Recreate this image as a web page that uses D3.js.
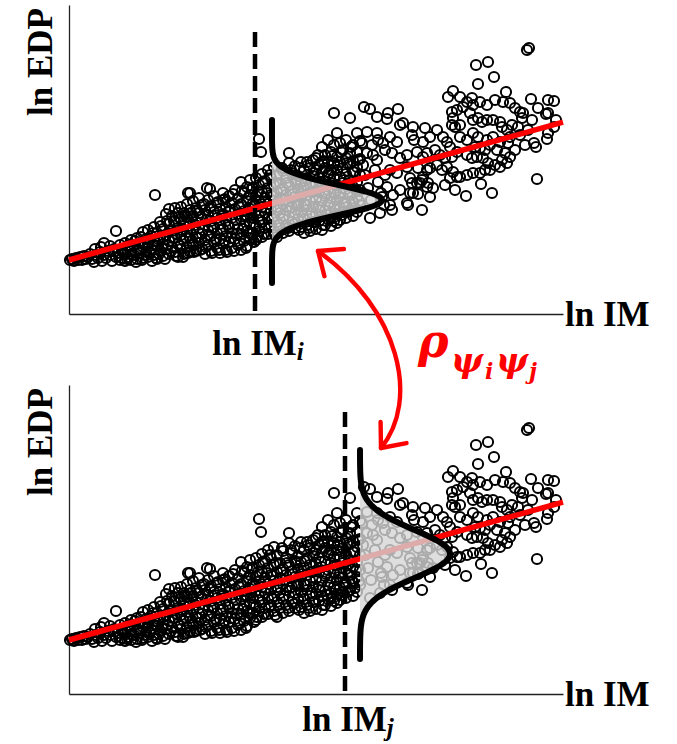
<!DOCTYPE html>
<html>
<head>
<meta charset="utf-8">
<script src="https://cdn.jsdelivr.net/npm/d3@7"></script>
<style>
  html, body { margin: 0; padding: 0; background: #fff; }
  svg { display: block; }
</style>
</head>
<body>
<svg id="chart" width="677" height="744"></svg>
<script>
// ---- ln IM / ln EDP pairs of the record set (arbitrary log units) ----
const bandLow = [
  [0.1,5.4],[0.3,5.5],[0.5,5.3],[0.7,5.6],[0.9,5.4],[1.1,5.7],[1.3,5.4],[1.5,5.8],[1.7,5.5],[1.9,5.7],
  [2.1,6.0],[2.3,5.5],[2.5,5.2],[2.7,5.9],[2.9,5.6],[3.1,6.2],[3.3,5.3],[3.5,5.9],[3.7,5.6],[3.9,6.3],
  [4.1,5.9],[4.3,5.3],[4.5,6.5],[4.7,5.7],[4.9,6.1],[5.1,5.4],[3.5,7.1],[4.7,8.3],[2.6,6.5],[3.2,6.7],
  [4.1,6.8],[5.1,6.9],[5.3,6.4],[5.3,5.6],[5.6,7.1],[5.6,6.0],[5.6,5.3],[5.9,6.7],[5.9,5.7],[6.2,7.4],
  [6.2,6.3],[6.2,5.4],[6.5,6.9],[6.5,5.9],[6.8,7.6],[6.8,6.5],[6.8,5.5],[7.1,7.1],[7.1,6.1],[7.4,8.2],
  [7.4,6.7],[7.4,5.6],[7.7,7.5],[7.7,6.2],[7.9,8.4],[7.9,7.0],[7.9,5.7],[8.2,7.8],[8.2,6.5],[8.5,8.7],
  [8.5,7.3],[8.5,5.9],[8.8,8.1],[8.8,6.8],[8.8,5.5],[9.1,9.2],[9.1,7.6],[9.1,6.3],[9.4,8.5],[9.4,7.0],
  [9.4,5.8],[9.7,10.0],[9.7,7.9],[9.7,6.5],[10.0,10.5],[10.0,9.0],[10.0,7.3],[10.0,6.0],[10.3,9.8],[10.3,8.3],
  [10.3,6.7],[10.6,10.6],[10.6,9.3],[10.6,7.6],[10.6,6.2],[10.9,10.1],[10.9,8.6],[10.9,7.0],[10.9,5.7],[11.2,10.7],
  [11.2,9.5],[11.2,7.9],[11.2,6.5],[11.5,10.1],[11.5,8.8],[11.5,7.3],[11.5,6.0],[11.8,11.0],[11.8,9.7],[11.8,8.2],
  [11.8,6.7],[12.1,10.4],[12.1,9.1],[12.1,7.6],[12.1,6.2],[8.6,11.9],[11.9,12.1]
];
const bandMid = [
  [12.4,11.3],[12.4,9.8],[12.4,8.4],[12.4,6.9],[12.7,10.6],[12.7,9.2],[12.7,7.7],[12.7,6.3],[13.0,11.6],[13.0,10.1],
  [13.0,8.6],[13.0,7.1],[13.3,10.9],[13.3,9.5],[13.3,8.0],[13.3,6.5],[13.6,10.4],[13.6,8.9],[13.6,7.4],[13.6,6.0],
  [13.9,11.4],[13.9,9.9],[13.9,8.4],[13.9,6.9],[14.2,10.8],[14.2,9.3],[14.2,7.8],[14.2,6.3],[14.5,11.8],[14.5,10.2],
  [14.5,8.7],[14.5,7.2],[14.8,11.1],[14.8,9.6],[14.8,8.1],[14.8,6.6],[15.1,10.5],[15.1,9.0],[15.1,7.5],[15.1,6.1],
  [15.4,12.1],[15.4,11.4],[15.4,10.0],[15.4,8.5],[15.4,7.0],[15.7,10.7],[15.7,9.3],[15.7,7.8],[15.7,6.4],[16.0,11.8],
  [16.0,10.2],[16.0,8.7],[16.0,7.2],[16.3,11.1],[16.3,9.6],[16.3,8.1],[16.3,6.6],[16.6,12.4],[16.6,10.5],[16.6,9.0],
  [16.6,7.5],[16.9,11.6],[16.9,10.0],[16.9,8.5],[16.9,6.9],[17.2,13.2],[17.2,11.0],[17.2,9.5],[17.2,8.0],[17.2,6.4],
  [17.5,12.1],[17.5,10.3],[17.5,8.8],[17.5,7.3],[17.8,12.7],[17.8,11.3],[17.8,9.8],[17.8,8.3],[17.8,6.8],[18.1,13.4],
  [18.1,11.9],[18.1,10.5],[18.1,9.0],[18.1,7.6],[13.8,12.6],[12.1,12.1],[14.1,12.5],[18.5,7.2],[19.0,17.5],[19.2,16.2],
  [18.4,12.6],[18.4,11.1],[18.4,9.6],[18.4,8.1],[18.7,13.6],[18.7,11.8],[18.7,10.3],[18.7,8.8],[18.7,7.4],[19.0,12.9],
  [19.0,11.3],[19.0,9.8],[19.0,8.3],[19.3,14.0],[19.3,12.2],[19.3,10.7],[19.3,9.2],[19.3,7.7],[19.6,13.3],[19.6,11.6],
  [19.6,10.1],[19.6,8.6],[19.9,14.4],[19.9,12.6],[19.9,11.0],[19.9,9.5],[19.9,8.0],[20.2,13.6],[20.2,11.9],[20.2,10.4],
  [20.2,8.9],[20.5,14.7],[20.5,12.9],[20.5,11.3],[20.5,9.8],[20.5,8.3],[20.8,13.9],[20.8,12.2],[20.8,10.7],[20.8,9.2],
  [20.8,7.7],[21.1,13.1],[21.1,11.6],[21.1,10.1],[21.1,8.6],[21.4,14.3],[21.4,12.5],[21.4,11.0],[21.4,9.5],[21.4,8.1],
  [21.7,13.6],[21.7,11.9],[21.7,10.4],[21.7,8.9],[22.0,16.1],[22.0,15.1],[22.0,12.9],[22.0,11.3],[22.0,9.8],[22.0,8.3],
  [22.3,14.1],[22.3,12.3],[22.3,10.7],[22.3,9.2],[22.6,14.8],[22.6,13.3],[22.6,11.7],[22.6,10.1],[22.6,8.6],[22.9,13.8],
  [22.9,12.5],[22.9,11.0],[22.9,9.5]
];
const bandDense = [
  [5.5,6.1],[5.8,5.5],[6.0,6.9],[6.3,5.9],[6.6,7.3],[6.7,5.2],[7.0,6.4],[7.2,7.7],[7.3,5.4],[7.6,6.9],
  [7.8,5.9],[8.0,7.6],[8.1,6.2],[8.3,5.3],[8.4,8.1],[8.6,6.9],[8.7,5.6],[8.9,7.5],[9.0,6.0],[9.2,8.8],
  [9.3,6.6],[9.5,7.7],[9.6,5.5],[9.8,9.3],[9.9,6.9],[10.1,8.4],[10.2,6.3],[10.4,7.6],[10.5,9.3],[10.7,5.8],
  [10.8,8.0],[11.0,9.7],[11.1,6.8],[11.3,8.4],[11.4,5.7],[11.6,9.9],[11.7,7.6],[11.9,6.1],[12.0,8.8],[12.2,10.1],
  [12.3,7.3],[12.5,6.2],[12.6,8.9],[12.8,10.3],[12.9,7.6],[13.1,6.4],[13.2,9.7],[13.4,8.4],[13.5,11.0],[13.7,6.7],
  [13.8,9.4],[14.0,7.9],[14.1,10.6],[14.3,6.1],[14.4,8.6],[14.6,9.9],[14.7,7.4],[14.9,11.2],[15.0,6.4],[15.2,8.4],
  [15.3,9.8],[15.5,7.3],[15.6,11.5],[15.8,6.2],[15.9,8.9],[16.1,10.4],[16.2,7.6],[16.4,12.0],[16.5,6.3],[16.7,9.4],
  [16.8,8.0],[17.0,10.8],[17.1,7.1],[17.3,12.3],[17.4,8.5],[17.6,9.9],[17.7,6.6],[17.9,11.6],[18.0,8.1],[18.2,10.1],
  [18.3,12.6],[18.5,8.9],[18.6,10.9],[18.8,7.7],[18.9,12.2],[19.1,9.4],[19.2,11.0],[19.4,13.2],[19.5,8.0],[19.7,10.6],
  [19.8,12.1],[20.0,8.7],[20.1,13.9],[20.3,9.6],[20.4,11.8],[20.6,7.9],[20.7,13.1],[20.9,10.4],[21.0,8.9],[21.2,12.4],
  [21.3,14.6],[21.5,9.8],[21.6,11.4],[21.8,13.1],[21.9,8.6],[22.1,10.6],[22.2,14.4],[22.4,12.0],[22.5,9.0],[22.7,13.1],
  [22.8,10.8],[23.0,8.4],[23.1,14.6],[23.3,12.0],[23.4,9.8],[23.6,13.3],[23.7,10.9],[23.9,14.9],[24.0,8.6],[24.2,12.2],
  [24.3,10.1],[24.5,14.1],[24.6,9.2],[24.8,12.4],[24.9,15.9],[25.1,10.4],[25.2,13.2],[25.4,8.9],[25.5,15.3],[25.7,12.0],
  [25.8,9.9],[26.0,14.1],[26.1,11.2],[26.3,15.8],[26.4,9.6],[26.6,12.9],[26.7,10.4],[26.9,14.9],[27.0,11.7],[27.2,16.2],
  [27.3,9.9],[27.5,13.4],[27.6,11.2],[27.8,15.1],[27.9,10.2],[28.0,13.0],[28.2,16.7],[28.3,11.3],[28.5,14.2],[28.6,10.6],
  [28.7,12.4],[28.9,15.4],[29.0,11.3]
];
const bandUpper = [
  [23.2,15.2],[23.2,13.2],[23.2,11.7],[23.2,10.2],[23.2,8.7],[23.5,14.4],[23.5,12.6],[23.5,11.0],[23.5,9.5],[23.5,8.1],
  [23.8,15.2],[23.8,13.6],[23.8,11.9],[23.8,10.4],[23.8,8.9],[24.1,14.6],[24.1,12.9],[24.1,11.3],[24.1,9.8],[24.1,8.3],
  [24.4,15.4],[24.4,13.8],[24.4,12.2],[24.4,10.7],[24.4,9.2],[24.7,15.6],[24.7,14.4],[24.7,13.0],[24.7,11.5],[24.7,10.0],
  [24.7,8.5],[25.0,14.9],[25.0,13.6],[25.0,12.2],[25.0,10.7],[25.0,9.3],[25.3,16.7],[25.3,15.2],[25.3,14.2],[25.3,12.7],
  [25.3,11.3],[25.3,9.8],[25.3,8.4],[25.6,15.9],[25.6,14.6],[25.6,13.3],[25.6,11.8],[25.6,10.3],[25.6,8.9],[25.9,17.4],
  [25.9,15.2],[25.9,13.9],[25.9,12.4],[25.9,10.9],[25.9,9.5],[26.2,16.2],[26.2,14.4],[26.2,13.1],[26.2,11.6],[26.2,10.1],
  [26.2,8.8],[26.5,20.1],[26.5,16.9],[26.5,15.1],[26.5,13.7],[26.5,12.2],[26.5,10.7],[26.5,9.3],[26.8,18.1],[26.8,15.7],
  [26.8,14.4],[26.8,12.9],[26.8,11.4],[26.8,10.0],[26.8,9.1],[27.1,17.1],[27.1,15.2],[27.1,13.7],[27.1,12.1],[27.1,10.6],
  [27.1,9.4],[27.4,16.4],[27.4,14.6],[27.4,13.1],[27.4,11.6],[27.4,10.2],[27.7,17.4],[27.7,15.6],[27.7,14.0],[27.7,12.5],
  [27.7,11.0],[27.7,9.6],[28.1,19.6],[28.1,16.1],[28.1,15.0],[28.1,13.4],[28.1,11.9],[28.1,10.4],[28.4,16.9],[28.4,15.3],
  [28.4,14.2],[28.4,12.7],[28.4,11.2],[28.4,9.8],[28.8,18.1],[28.8,16.2],[28.8,14.7],[28.8,13.2],[28.8,11.7],[28.8,10.2],
  [29.1,17.3],[29.1,15.5],[29.1,13.9],[29.1,12.4],[29.1,10.9],
  [29.5,20.7],[30.1,20.5],[30.8,19.7],[31.9,20.1],[31.8,19.5],[32.9,20.5],[33.1,18.9],[33.4,19.1],[34.4,18.7],
  [29.3,17.1],[29.8,18.2],[30.3,16.9],[30.8,18.1],[30.9,17.4],[31.4,17.1],[31.6,16.4],[32.1,17.7],[32.8,17.2],[34.3,17.9],
  [34.5,17.4],[29.8,16.1],[30.4,15.9],[29.4,14.9],[30.8,15.4],[32.3,16.1],[33.1,15.6],[33.8,15.9],[34.8,16.2],
  [32.1,14.4],[32.8,14.1],[33.8,14.7],[34.9,14.6],[34.1,13.6],[34.8,13.1],[31.8,12.7],[32.4,11.9],[33.1,12.4],[34.1,12.1],
  [32.1,10.9],[33.8,11.1],[31.3,11.7],[30.1,9.6],[31.1,10.1],[32.3,10.4],[33.9,10.9],
  [29.6,13.9],[29.9,12.6],[30.2,11.4],[30.6,14.4],[30.9,13.2],[31.2,12.1],[31.6,13.9],[31.5,10.9],[34.4,12.1],[34.9,12.0],
  [34.3,13.1]
];
const cloudRight = [
  [35.4,17.2],[35.4,15.7],[35.8,14.4],[35.3,13.4],[35.8,12.7],[35.1,13.1],[35.3,10.4],[36.1,11.7],[36.4,12.6],
  [45.8,26.4],[46.0,26.6],[40.7,24.9],[41.9,25.2],[42.5,23.7],[40.9,23.0],[43.7,22.2],[38.4,22.3],[37.9,21.7],[46.2,21.5],
  [47.9,21.4],[48.5,21.3],[47.7,20.0],[47.9,20.1],[48.5,18.7],[47.9,18.1],[47.8,17.5],[46.5,17.1],[46.7,16.7],[46.8,13.5],
  [42.3,12.1],[39.7,11.8],[41.2,13.0],
  [39.1,21.7],[39.8,21.2],[40.3,21.6],[40.4,20.9],[41.1,21.2],[41.8,20.9],[42.6,21.4],[43.4,21.2],[44.1,21.1],[44.6,20.6],
  [45.1,20.2],[45.4,20.1],[38.3,20.2],[38.8,20.4],[39.4,20.7],[38.4,19.6],[38.3,18.9],[38.6,18.7],[39.1,18.9],[40.1,20.1],
  [40.4,19.4],[40.9,19.6],[41.3,19.2],[41.8,19.4],[42.4,19.4],[43.1,19.2],[43.3,18.7],[43.8,18.4],[44.3,18.9],[44.9,18.7],
  [45.3,19.6],
  [35.6,18.6],[36.8,18.4],[36.1,17.7],[37.4,17.7],[37.8,17.2],[38.1,16.7],[39.1,17.7],[39.8,17.4],[40.4,18.1],[40.9,17.7],
  [41.8,17.4],[42.4,17.7],[43.1,17.2],[43.9,17.1],[44.1,17.7],[40.6,16.7],[41.1,16.6],[41.6,16.4],[42.1,16.9],[42.8,16.4],
  [43.6,16.1],[44.1,15.7],[43.3,15.4],
  [35.8,16.1],[36.6,16.4],[37.1,15.9],[37.6,15.6],[38.3,15.7],[38.8,16.2],[39.8,15.9],[40.3,15.6],[40.8,15.7],[41.4,15.6],
  [41.9,15.1],[42.6,14.9],[43.1,14.7],[43.8,15.1],
  [36.1,14.6],[36.8,14.9],[37.3,14.4],[37.8,14.7],[38.4,14.2],[39.1,13.7],[39.8,13.9],[40.4,14.1],[41.1,14.1],[41.6,14.4],
  [35.4,13.7],[35.9,13.1],[38.1,13.6],[38.8,13.7],[42.1,14.4],
  [48.7,19.4],[45.1,17.9],[45.6,16.9],[44.6,16.4],[45.9,18.4],[46.3,19.4],[46.9,20.6],[37.6,12.9],[38.6,12.4]
];

// ---- linear fit of ln EDP on ln IM ----
const fitIntercept = 5.4;
const fitSlope = 0.279;

// ---- axis extents ----
const imRange = [0, 49.4];
const edpRange = [0, 30.9];

// ---- conditioning levels (top panel: i, bottom panel: j) ----
const imCond = [18.6, 27.6];
const imCondSub = ["i", "j"];
const condLineSpan = [0.3, 28.8];
const densityBase = [20.3, 29.1];
const densityMean = [11.4, 14.0];
const densitySigma = [1.5, 2.4];
const densityPeak = [11.0, 9.0];
const densitySpan = [[3.1, 19.4], [3.5, 24.4]];

const records = bandLow.concat(bandMid, bandDense, bandUpper, cloudRight);

const svg = d3.select("#chart");
const serif = "'Liberation Serif', 'Times New Roman', serif";

const x = d3.scaleLinear().domain(imRange).range([69, 563]);
const panels = [
  { y: d3.scaleLinear().domain(edpRange).range([314, 5]), labelDy: 41 },
  { y: d3.scaleLinear().domain(edpRange).range([694, 385]), labelDy: 37 }
];

panels.forEach((p, k) => {
  const y = p.y;
  const g = svg.append("g");

  // axes without ticks
  g.append("g")
    .attr("transform", `translate(0,${y(0)})`)
    .call(d3.axisBottom(x).tickValues([]).tickSizeOuter(0))
    .select(".domain").attr("stroke", "#222").attr("stroke-width", 1.3);
  g.append("g")
    .attr("transform", `translate(${x(0)},0)`)
    .call(d3.axisLeft(y).tickValues([]).tickSizeOuter(0))
    .select(".domain").attr("stroke", "#222").attr("stroke-width", 1.3);

  // records
  g.append("g").selectAll("circle")
    .data(records)
    .join("circle")
    .attr("cx", d => x(d[0]))
    .attr("cy", d => y(d[1]))
    .attr("r", 5.1)
    .attr("fill", "none")
    .attr("stroke", "#000")
    .attr("stroke-width", 2);

  // regression line
  g.append("line")
    .attr("x1", x(imRange[0])).attr("y1", y(fitIntercept + fitSlope * imRange[0]))
    .attr("x2", x(imRange[1])).attr("y2", y(fitIntercept + fitSlope * imRange[1]))
    .attr("stroke", "#ff0000").attr("stroke-width", 5.5);

  // conditional density of ln EDP at the chosen ln IM
  const base = densityBase[k], mu = densityMean[k], s = densitySigma[k], A = densityPeak[k];
  const pdf = v => base + A * Math.exp(-((v - mu) ** 2) / (2 * s * s));
  const ys = d3.range(densitySpan[k][0], densitySpan[k][1] + 1e-9, 0.05);

  g.append("path")
    .datum(ys)
    .attr("d", d3.area().y(v => y(v)).x0(x(base)).x1(v => x(pdf(v))))
    .attr("fill", "#d6d6d6")
    .attr("fill-opacity", 0.8);

  // dashed conditioning line
  g.append("line")
    .attr("x1", x(imCond[k])).attr("x2", x(imCond[k]))
    .attr("y1", y(condLineSpan[0])).attr("y2", y(condLineSpan[1]))
    .attr("stroke", "#000").attr("stroke-width", 4.5)
    .attr("stroke-dasharray", "15,7");

  g.append("path")
    .datum(ys)
    .attr("d", d3.line().y(v => y(v)).x(v => x(pdf(v))))
    .attr("fill", "none")
    .attr("stroke", "#000")
    .attr("stroke-width", 6)
    .attr("stroke-linecap", "round");

  // axis titles
  g.append("text")
    .attr("transform", `translate(52,${(y(edpRange[1]) + 57)}) rotate(-90)`)
    .attr("text-anchor", "middle")
    .attr("font-family", serif).attr("font-weight", "bold").attr("font-size", 35)
    .text("ln EDP");
  g.append("text")
    .attr("x", 565).attr("y", y(0) + 12)
    .attr("font-family", serif).attr("font-weight", "bold").attr("font-size", 35)
    .text("ln IM");

  const lab = g.append("text")
    .attr("x", x(imCond[k]) + 3).attr("y", y(0) + p.labelDy)
    .attr("text-anchor", "middle")
    .attr("font-family", serif).attr("font-weight", "bold").attr("font-size", 35);
  lab.append("tspan").text("ln IM");
  lab.append("tspan").attr("font-style", "italic").attr("font-size", 25).attr("dy", 5).text(imCondSub[k]);
});

// correlation arrow joining the two conditional distributions
const yT = panels[0].y, yB = panels[1].y;
const p0 = [x(24.9), yT(6.3)];
const p3 = [x(31.2), yB(24.6)];
const c1 = [p0[0] + 82, p0[1] + 59];
const c2 = [p3[0] + 39, p3[1] - 48];
const arrow = svg.append("g").attr("stroke", "#ff0000").attr("fill", "none")
  .attr("stroke-width", 4.4).attr("stroke-linecap", "round").attr("stroke-linejoin", "round");
arrow.append("path").attr("d", `M${p0}C${c1} ${c2} ${p3}`);
function head(tip, ctrl) {
  const a = Math.atan2(ctrl[1] - tip[1], ctrl[0] - tip[0]);
  const L = 26, spread = 40 * Math.PI / 180;
  const e1 = [tip[0] + L * Math.cos(a - spread), tip[1] + L * Math.sin(a - spread)];
  const e2 = [tip[0] + L * Math.cos(a + spread), tip[1] + L * Math.sin(a + spread)];
  arrow.append("path").attr("d", `M${e1}L${tip}L${e2}`);
}
head(p0, c1);
head(p3, c2);

// correlation coefficient label
const greek = "'DejaVu Serif', serif";
const rho = svg.append("g").attr("fill", "#ff0000").attr("font-family", greek)
  .attr("font-weight", "bold").attr("font-style", "italic");
rho.append("text").attr("x", 418).attr("y", 357).attr("font-size", 46).text("ρ");
rho.append("text").attr("x", 451).attr("y", 372).attr("font-size", 34).text("ψ");
rho.append("text").attr("x", 485).attr("y", 379).attr("font-size", 22).text("i");
rho.append("text").attr("x", 496).attr("y", 372).attr("font-size", 34).text("ψ");
rho.append("text").attr("x", 529).attr("y", 379).attr("font-size", 22).text("j");
</script>
</body>
</html>
